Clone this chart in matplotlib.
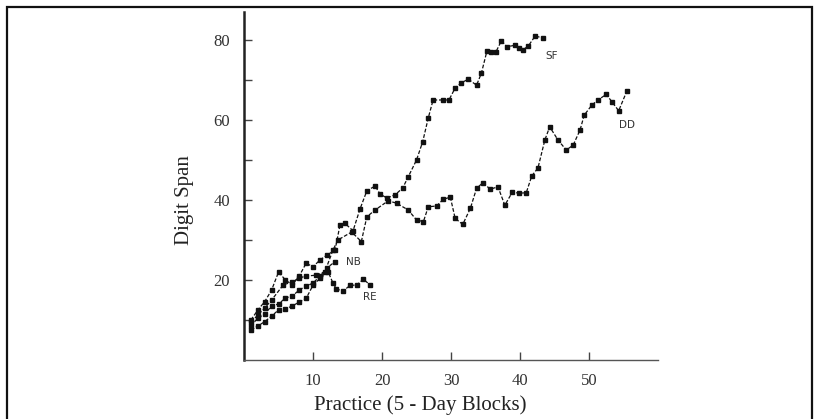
import matplotlib.pyplot as plt
from matplotlib.patches import Rectangle

# digit span per practice block
sf_x = [1, 2, 3, 4, 5, 6, 7, 8, 9, 10, 11, 12, 13.2, 13.9, 14.6, 15.8, 16.8,
        17.8, 19, 19.7, 20.7, 21.9, 23, 23.8, 25, 25.9, 26.7, 27.4, 28.9, 29.7,
        30.6, 31.5, 32.5, 33.7, 34.4, 35.2, 35.8, 36.5, 37.3, 38.1, 39.3, 39.9,
        40.4, 41.2, 42.2, 43.3]
sf_y = [10, 12.5, 14.6, 17.5, 22, 20, 18.8, 21, 24.2, 23.3, 25, 26.2, 27.5,
        33.7, 34.2, 32.3, 37.7, 42.3, 43.5, 41.5, 40.5, 41.3, 43, 45.8, 50,
        54.6, 60.5, 65, 65, 65, 68, 69.3, 70.2, 68.7, 71.7, 77.2, 77, 77, 79.8,
        78.3, 78.7, 78, 77.5, 78.5, 81, 80.5]

dd_x = [1, 2, 3, 4, 5.7, 7, 8, 9, 10.5, 11.7, 12.9, 13.6, 15.6, 17, 17.8, 19,
        20.9, 22.1, 23.8, 25, 26, 26.7, 27.9, 28.9, 29.9, 30.6, 31.7, 32.8,
        33.7, 34.6, 35.7, 36.8, 37.8, 38.9, 39.8, 40.9, 41.7, 42.6, 43.6, 44.3,
        45.5, 46.7, 47.7, 48.7, 49.3, 50.4, 51.3, 52.5, 53.3, 54.3, 55.5]
dd_y = [9.5, 11.2, 13, 15, 18.8, 19.5, 20.5, 21, 21.2, 22, 27.5, 30, 32, 29.6,
        35.8, 37.5, 39.8, 39.2, 37.5, 35, 34.6, 38.3, 38.5, 40.2, 40.7, 35.4,
        33.9, 37.9, 42.9, 44.3, 42.7, 43.3, 38.7, 42, 41.7, 41.8, 46, 48, 55,
        58.3, 55, 52.5, 53.7, 57.5, 61.2, 63.7, 65, 66.4, 64.6, 62.3, 67.3]

nb_x = [1, 2, 3, 4, 5, 6, 7, 8, 9, 10, 11, 12, 13.2]
nb_y = [8.5, 10.5, 11.5, 13.5, 14, 15.5, 16, 17.5, 18.5, 19.2, 21, 23, 24.6]

re_x = [1, 2, 3, 4, 5, 6, 7, 8, 9, 10, 11, 12.2, 12.9, 13.4, 14.4, 15.4,
        16.3, 17.3, 18.3]
re_y = [7.5, 8.5, 9.6, 11, 12.5, 12.8, 13.5, 14.5, 15.4, 18.7, 20.4, 22,
        19.2, 17.7, 17.3, 18.7, 18.7, 20.2, 18.7]

labels = {'SF': (44.6, 76), 'DD': (55.5, 58.7), 'NB': (15.8, 24.5), 'RE': (18.3, 15.8)}

plt.rcParams['font.family'] = ['Liberation Serif', 'DejaVu Serif']

fig = plt.figure(figsize=(8.17, 4.19), dpi=100)
ax = fig.add_axes([0.2987, 0.1408, 0.5067, 0.8306])

for xs, ys in [(sf_x, sf_y), (dd_x, dd_y), (nb_x, nb_y), (re_x, re_y)]:
    ax.plot(xs, ys, color='#111111', ls=(0, (3, 1.5)), lw=0.9,
            marker='s', ms=2.8, mfc='#111111', mec='#111111')

for name, (x, y) in labels.items():
    ax.text(x, y, name, fontsize=7.5, color='#333333', family='DejaVu Sans',
            ha='center', va='center')

ax.set_xlim(0, 60)
ax.set_ylim(0, 87)
ax.set_xticks([10, 20, 30, 40, 50])
ax.set_yticks([10, 20, 30, 40, 50, 60, 70, 80])
ax.set_yticklabels(['', '20', '', '40', '', '60', '', '80'])
ax.tick_params(direction='in', length=6, width=1.0, color='#444444',
               labelsize=12, labelcolor='#333333')
ax.tick_params(axis='y', pad=10)
ax.tick_params(axis='x', pad=9)
for s in ['top', 'right']:
    ax.spines[s].set_visible(False)
ax.spines['left'].set_linewidth(1.8)
ax.spines['left'].set_color('#222222')
ax.spines['bottom'].set_linewidth(1.0)
ax.spines['bottom'].set_color('#555555')

fig.text(420 / 817, 1 - 405 / 419, 'Practice (5 - Day Blocks)', fontsize=15,
         color='#222222', ha='center', va='center')
fig.text(185 / 817, 1 - 200 / 419, 'Digit Span', fontsize=15, rotation=90,
         color='#222222', ha='center', va='center')

fig.patches.append(Rectangle((7 / 817, -0.01), 805 / 817, 1 - 7 / 419 + 0.01,
                             transform=fig.transFigure, fill=False,
                             lw=1.6, ec='#111111'))

fig.savefig('out.png', dpi=100)
